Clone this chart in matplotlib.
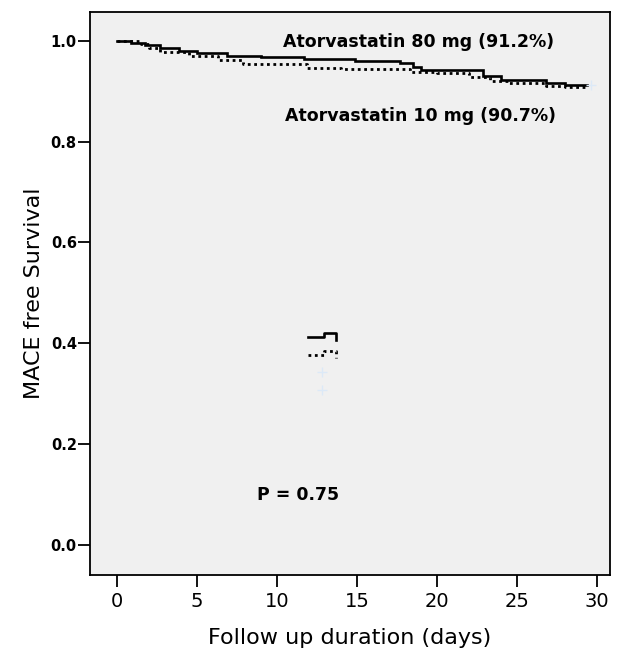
import numpy as np
import matplotlib
matplotlib.use('Agg')
import matplotlib.pyplot as plt
from matplotlib.lines import Line2D
from matplotlib.legend_handler import HandlerBase

# Kaplan-Meier ступеньки (день, доля без MACE)
days_80 = [0, 0.9, 1.75, 2.7, 3.9, 5.0, 6.9, 9.0, 11.7, 14.9, 17.7, 18.5,
           19.0, 22.9, 24.0, 26.8, 28.0, 29.4]
surv_80 = [1.000, 0.996, 0.991, 0.985, 0.979, 0.975, 0.970, 0.967, 0.964,
           0.959, 0.955, 0.948, 0.941, 0.930, 0.923, 0.917, 0.913, 0.912]

days_10 = [0, 1.5, 2.0, 2.7, 4.5, 6.3, 7.9, 11.9, 14.0, 18.3, 20.0, 22.0,
           23.3, 24.5, 26.8, 28.0, 29.4]
surv_10 = [1.000, 0.993, 0.986, 0.977, 0.970, 0.962, 0.953, 0.945, 0.943,
           0.938, 0.935, 0.928, 0.920, 0.916, 0.911, 0.908, 0.907]

labels = ['Atorvastatin 80 mg (91.2%)', 'Atorvastatin 10 mg (90.7%)']
p_text = 'P = 0.75'
x_ticks = [0, 5, 10, 15, 20, 25, 30]
y_ticks = [0.0, 0.2, 0.4, 0.6, 0.8, 1.0]

censor_col = '#dce9f7'


class StepHandler(HandlerBase):
    # значок легенды в виде ступеньки, как в SPSS
    def create_artists(self, legend, orig_handle, xdescent, ydescent,
                       width, height, fontsize, trans):
        xs = np.array([0, 0.55, 0.55, 1, 1]) * width - xdescent
        ys = np.array([0.5, 0.5, 0.95, 0.95, 0.2]) * height - ydescent
        line = Line2D(xs, ys)
        self.update_prop(line, orig_handle, legend)
        line.set_transform(trans)
        return [line]


fig = plt.figure(figsize=(6.24, 6.53), dpi=100)
ax = fig.add_axes([0.1442, 0.1194, 0.8334, 0.8622])
ax.set_facecolor('#f0f0f0')

ax.step(days_80, surv_80, where='post', color='black', lw=1.9,
        solid_joinstyle='miter')
ax.step(days_10, surv_10, where='post', color='black', lw=2.0,
        linestyle=(0, (1, 1.3)))
ax.plot([days_80[-1] + 0.2], [surv_80[-1]], marker='+', ms=7,
        color=censor_col, ls='none')

ax.set_xlim(-1.69, 30.81)
ax.set_ylim(-0.0595, 1.0569)
ax.set_xticks(x_ticks)
ax.set_yticks(y_ticks)
ax.set_xticklabels([str(v) for v in x_ticks], fontsize=14)
ax.set_yticklabels(['%.1f' % v for v in y_ticks], fontsize=10.5,
                   fontweight='bold')
ax.tick_params(axis='both', direction='out', length=8.5, width=1.3,
               color='black')
ax.tick_params(axis='x', pad=4)
ax.tick_params(axis='y', pad=1)
for sp in ax.spines.values():
    sp.set_linewidth(1.3)
    sp.set_color('black')

ax.set_xlabel('Follow up duration (days)', fontsize=16, labelpad=12)
ax.set_ylabel('MACE free Survival', fontsize=16, labelpad=5)

ax.text(10.4, 0.998, labels[0], fontsize=12.5, fontweight='bold',
        va='center', ha='left')
ax.text(10.5, 0.85, labels[1], fontsize=12.5, fontweight='bold',
        va='center', ha='left')
ax.text(8.75, 0.10, p_text, fontsize=12.5, fontweight='bold',
        va='center', ha='left')

handles = [
    Line2D([], [], color='black', lw=1.9),
    Line2D([], [], color='black', lw=2.0, linestyle=(0, (1, 1.3))),
    Line2D([], [], color=censor_col, marker='+', ls='none', ms=7),
    Line2D([], [], color=censor_col, marker='+', ls='none', ms=7),
]
ax.legend(handles, ['', '', '', ''], loc='upper left',
          bbox_to_anchor=(0.396, 0.455), frameon=False, fontsize=10,
          handlelength=2.0, labelspacing=0.25, handletextpad=0,
          handler_map={handles[0]: StepHandler(),
                       handles[1]: StepHandler()})

fig.savefig('out.png', dpi=100)
